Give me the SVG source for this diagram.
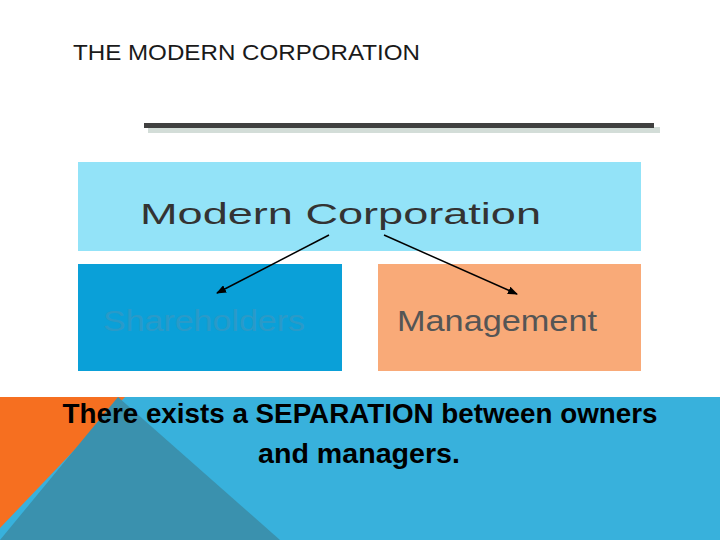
<svg xmlns="http://www.w3.org/2000/svg" width="720" height="540" viewBox="0 0 720 540">
<defs>
<style>
.t{font-family:"Liberation Sans",Arial,sans-serif}
.big{font-family:"Liberation Sans",Arial,sans-serif;font-weight:bold;font-size:27px;fill:#000}
.lbl{font-family:"Liberation Sans",Arial,sans-serif;font-size:30px}
</style>
<marker id="ah" markerWidth="10" markerHeight="8" refX="9" refY="4" orient="auto" markerUnits="userSpaceOnUse">
<path d="M0,0 L10,4 L0,8 Z" fill="#000"/>
</marker>
</defs>
<rect width="720" height="540" fill="#fff"/>
<rect x="0" y="397" width="720" height="143" fill="#38b1dc"/>
<polygon points="0,397 125,397 0,528" fill="#f66f20"/>
<polygon points="118,397 0,540 280,540" fill="#3a91ae"/>
<text class="t" x="73" y="60" font-size="22" fill="#1a1a1a" textLength="347" lengthAdjust="spacingAndGlyphs">THE MODERN CORPORATION</text>
<rect x="148" y="127" width="512" height="6" fill="#d3ddd8"/>
<rect x="144" y="123" width="510" height="5" fill="#404040"/>
<g id="modern">
<rect x="78" y="162" width="563" height="89" fill="#93e3f8"/>
<text class="lbl" x="140" y="224" font-size="40" fill="#333" textLength="401" lengthAdjust="spacingAndGlyphs">Modern Corporation</text>
</g>
<g id="shareholders">
<rect x="78" y="264" width="264" height="107" fill="#0aa0d8"/>
<text class="lbl" x="103" y="331" fill="#2a9ac8" textLength="202" lengthAdjust="spacingAndGlyphs">Shareholders</text>
</g>
<g id="management">
<rect x="378" y="264" width="263" height="107" fill="#f9aa78"/>
<text class="lbl" x="397" y="331" fill="#555" textLength="200" lengthAdjust="spacingAndGlyphs">Management</text>
</g>
<g id="connectors" stroke="#000" stroke-width="1.5" fill="none">
<line x1="329" y1="235" x2="217" y2="293" marker-end="url(#ah)"/>
<line x1="384" y1="235" x2="517" y2="294" marker-end="url(#ah)"/>
</g>
<text class="big" x="360" y="423" text-anchor="middle" textLength="595" lengthAdjust="spacingAndGlyphs">There exists a SEPARATION between owners</text>
<text class="big" x="359" y="463" text-anchor="middle" textLength="202" lengthAdjust="spacingAndGlyphs">and managers.</text>
</svg>
